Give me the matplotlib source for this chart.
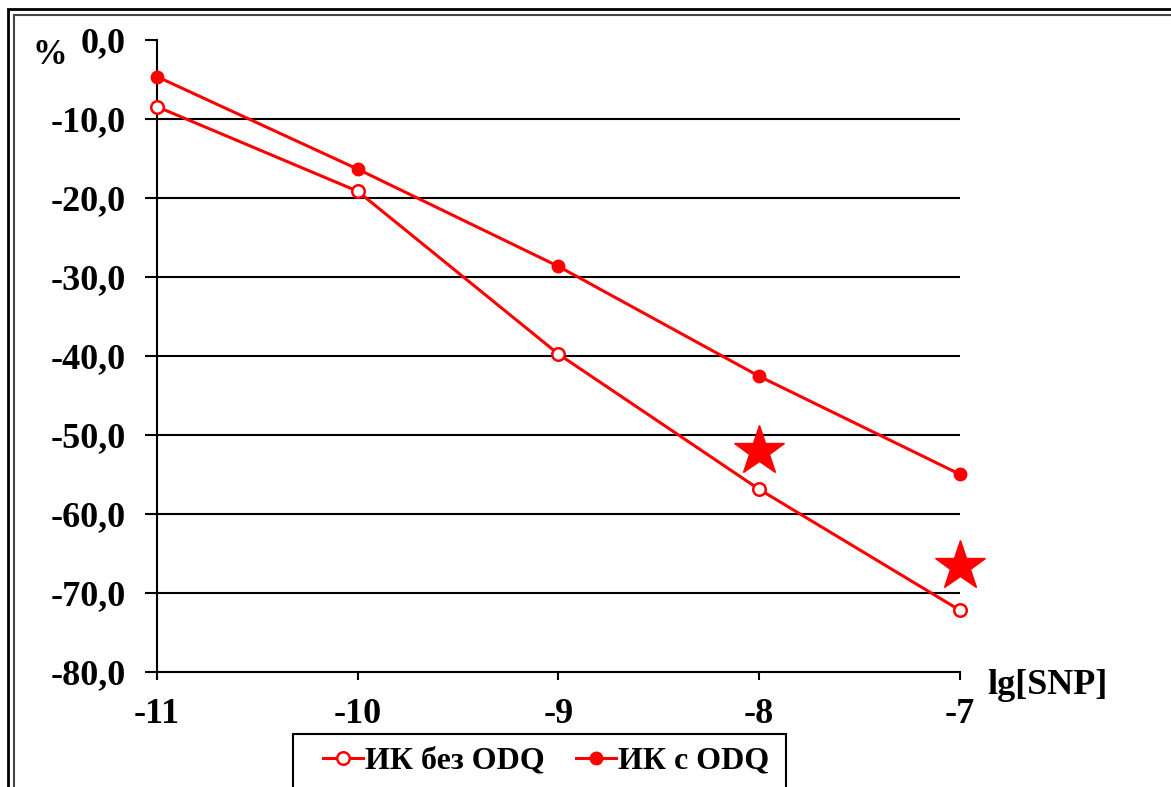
import matplotlib

matplotlib.use("Agg")

import matplotlib.pyplot as plt
from matplotlib.patches import Rectangle

W, H = 1171, 787

lg_snp = [-11, -10, -9, -8, -7]
ik_without_odq = [-8.5, -19.2, -39.8, -56.9, -72.2]
ik_with_odq = [-4.7, -16.4, -28.7, -42.6, -55.0]
star_x = [-8, -7]
star_y = [-52.0, -66.6]
y_ticks = [0, -10, -20, -30, -40, -50, -60, -70, -80]
y_tick_labels = [f"{v:.1f}".replace(".", ",") for v in y_ticks]

RED = "#ff0000"
FONT = "Liberation Serif"

plt.rcParams["font.family"] = FONT
plt.rcParams["font.weight"] = "bold"

fig = plt.figure(figsize=(W / 100, H / 100), dpi=100)
ax = fig.add_axes([157 / W, 1 - 672 / H, (960 - 157) / W, (672 - 39.5) / H])

ax.set_xlim(-11, -7)
ax.set_ylim(-80, 0)
for y in y_ticks[1:-1]:
    ax.axhline(y, color="black", linewidth=1.5, zorder=1)

ax.plot(lg_snp, ik_without_odq, color=RED, linewidth=2.2, marker="o",
        markersize=9, markerfacecolor="white", markeredgecolor=RED,
        markeredgewidth=1.8, label="ИК без ODQ", zorder=3, clip_on=False)
ax.plot(lg_snp, ik_with_odq, color=RED, linewidth=2.2, marker="o",
        markersize=9, markerfacecolor=RED, markeredgecolor=RED,
        label="ИК с ODQ", zorder=3, clip_on=False)
ax.plot(star_x, star_y, linestyle="none", marker="*", markersize=38,
        color=RED, zorder=4, clip_on=False)

ax.spines[["top", "right"]].set_visible(False)
for side in ("left", "bottom"):
    ax.spines[side].set_linewidth(1.5)
ax.set_yticks(y_ticks)
ax.set_yticklabels(y_tick_labels)
ax.set_xticks(lg_snp)
ax.set_xticklabels([str(v) for v in lg_snp])
ax.tick_params(axis="y", direction="out", length=8.6, width=1.5, pad=14, labelsize=26)
ax.tick_params(axis="x", direction="out", length=6, width=1.5, pad=13, labelsize=26)

fig.text(50 / W, 1 - 55 / H, "%", fontsize=25, ha="center", va="center")
fig.text(987 / W, 1 - 685 / H, "lg[SNP]", fontsize=26, ha="left", va="center")

# legend entries without frame, box drawn separately (it runs off the bottom)
fig.legend(loc="center left", bbox_to_anchor=(323 / W, 1 - 761 / H),
           bbox_transform=fig.transFigure, ncol=2, fontsize=23,
           frameon=False, handlelength=1.25, handletextpad=0.05,
           columnspacing=1.0, borderpad=0, borderaxespad=0)
fig.add_artist(Rectangle((293 / W, -0.1), (786 - 293) / W, (H - 734) / H + 0.1,
                         transform=fig.transFigure, fill=False,
                         edgecolor="black", linewidth=1.5))

# double frame around the picture
fig.add_artist(Rectangle((8 / W, -0.1), 1.2, (H - 9) / H + 0.1,
                         transform=fig.transFigure, fill=False,
                         edgecolor="black", linewidth=2.0))
fig.add_artist(Rectangle((14 / W, -0.1), 1.2, (H - 15) / H + 0.1,
                         transform=fig.transFigure, fill=False,
                         edgecolor="#444444", linewidth=1.5))

fig.savefig("out.png", dpi=100)
